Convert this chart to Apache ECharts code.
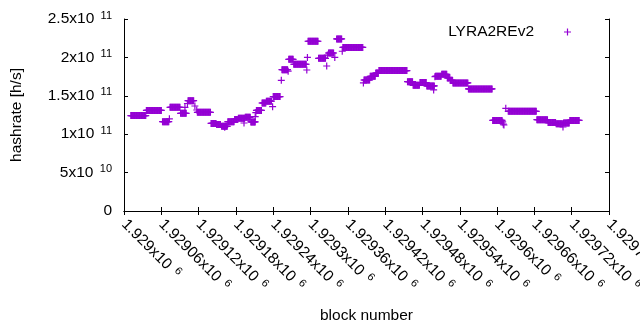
<!DOCTYPE html>
<html>
<head>
<meta charset="utf-8">
<script src="https://cdn.jsdelivr.net/npm/echarts@6/dist/echarts.min.js"></script>
<style>
  html, body { margin: 0; padding: 0; background: #fff; }
  #chart { width: 640px; height: 330px; }
</style>
</head>
<body>
<div id="chart"></div>
<script>
// block ranges where the estimated hashrate stays flat (one point per block)
const runStart = [
  1929011, 1929036, 1929062, 1929074, 1929091, 1929103, 1929118, 1929140, 1929149, 1929157,
  1929167, 1929178, 1929184, 1929195, 1929204, 1929213, 1929222, 1929229, 1929240, 1929254,
  1929265, 1929273, 1929296, 1929313, 1929329, 1929342, 1929352, 1929386, 1929396, 1929405,
  1929410, 1929456, 1929465, 1929476, 1929487, 1929501, 1929511, 1929520, 1929525, 1929529,
  1929554, 1929593, 1929618, 1929664, 1929682, 1929695, 1929707, 1929717
];
const runEnd = [
  1929035, 1929060, 1929072, 1929090, 1929100, 1929112, 1929139, 1929148, 1929155, 1929166,
  1929177, 1929183, 1929194, 1929203, 1929211, 1929221, 1929228, 1929237, 1929251, 1929263,
  1929272, 1929293, 1929312, 1929324, 1929337, 1929350, 1929384, 1929395, 1929404, 1929409,
  1929455, 1929464, 1929475, 1929486, 1929499, 1929510, 1929519, 1929524, 1929528, 1929553,
  1929592, 1929608, 1929663, 1929681, 1929694, 1929705, 1929716, 1929732
];
const runValue = [
  1.243e11, 1.31e11, 1.163e11, 1.35e11, 1.272e11, 1.436e11, 1.285e11, 1.14e11, 1.126e11, 1.103e11,
  1.163e11, 1.193e11, 1.207e11, 1.222e11, 1.16e11, 1.31e11, 1.406e11, 1.43e11, 1.49e11, 1.84e11,
  1.975e11, 1.911e11, 2.21e11, 1.988e11, 2.057e11, 2.24e11, 2.13e11, 1.706e11, 1.753e11, 1.797e11,
  1.829e11, 1.684e11, 1.636e11, 1.673e11, 1.628e11, 1.753e11, 1.779e11, 1.732e11, 1.702e11, 1.667e11,
  1.589e11, 1.18e11, 1.298e11, 1.189e11, 1.152e11, 1.137e11, 1.146e11, 1.18e11
];

// single blocks off the flat runs
const pointBlock = [
  1929073, 1929098, 1929102, 1929114, 1929117, 1929162, 1929193, 1929211, 1929212, 1929239,
  1929253, 1929264, 1929294, 1929295, 1929326, 1929327, 1929339, 1929351, 1929385, 1929498,
  1929500, 1929609, 1929610, 1929611, 1929614, 1929706
];
const pointValue = [
  1.2e11, 1.35e11, 1.40e11, 1.367e11, 1.315e11, 1.09e11, 1.146e11, 1.228e11, 1.28e11, 1.358e11,
  1.702e11, 1.82e11, 1.836e11, 2.0e11, 1.888e11, 2.03e11, 2.0e11, 2.08e11, 1.667e11, 1.576e11,
  1.748e11, 1.16e11, 1.13e11, 1.12e11, 1.337e11, 1.094e11
];

const xTickText = [
  '1.929x10', '1.92906x10', '1.92912x10', '1.92918x10', '1.92924x10', '1.9293x10', '1.92936x10',
  '1.92942x10', '1.92948x10', '1.92954x10', '1.9296x10', '1.92966x10', '1.92972x10', '1.92978x10'
];
const xTickExp = '6';
const yTickText = ['0', '5x10', '1x10', '1.5x10', '2x10', '2.5x10'];
const yTickExp = ['', '10', '11', '11', '11', '11'];

const seriesName = 'LYRA2REv2';

const X_MIN = 1929000, X_STEP = 60, Y_STEP = 5e10;
const plus = 'path://M0,2.9H7V4.1H0Z M2.9,0H4.1V7H2.9Z';
const font = 'Liberation Sans';
const fs = 15.5;

const points = [];
runStart.forEach((s, i) => {
  for (let b = s; b <= runEnd[i]; b++) points.push([b, runValue[i]]);
});
pointBlock.forEach((b, i) => points.push([b, pointValue[i]]));

const rich = {
  m: { fontSize: fs, fontFamily: font, color: '#000' },
  e: { fontSize: 11, fontFamily: font, color: '#000', padding: [0, 0, 7, 2] }
};

const chart = echarts.init(document.getElementById('chart'), null, { renderer: 'canvas' });
chart.setOption({
  animation: false,
  backgroundColor: '#fff',
  textStyle: { fontFamily: font },
  grid: { left: 124, right: 31, top: 19, bottom: 119, containLabel: false, outerBoundsMode: 'none' },
  legend: {
    data: [seriesName],
    right: 69,
    top: 24,
    padding: 0,
    align: 'right',
    icon: plus,
    itemWidth: 7,
    itemHeight: 7,
    itemStyle: { color: '#9400d3' },
    textStyle: { fontSize: fs, color: '#000', fontFamily: font, padding: [0, 25, 0, 0] }
  },
  xAxis: [
    {
      type: 'value', min: X_MIN, max: 1929780, interval: X_STEP,
      name: 'block number', nameLocation: 'middle', nameGap: 97,
      nameTextStyle: { fontSize: fs, color: '#000', fontFamily: font },
      axisLine: { lineStyle: { color: '#000', width: 1 } },
      axisTick: { inside: true, length: 4, lineStyle: { color: '#000' } },
      splitLine: { show: false },
      axisLabel: {
        rotate: -45, margin: 11, color: '#000',
        formatter: v => {
          const i = Math.round((v - X_MIN) / X_STEP);
          return '{m|' + xTickText[i] + ' }{e|' + xTickExp + '}';
        },
        rich
      }
    },
    {
      type: 'value', position: 'top', min: X_MIN, max: 1929780, interval: X_STEP,
      axisLine: { lineStyle: { color: '#000', width: 1 } },
      axisTick: { inside: true, length: 4, lineStyle: { color: '#000' } },
      axisLabel: { show: false },
      splitLine: { show: false }
    }
  ],
  yAxis: [
    {
      type: 'value', min: 0, max: 2.5e11, interval: Y_STEP,
      name: 'hashrate [h/s]', nameLocation: 'middle', nameGap: 99,
      nameTextStyle: { fontSize: fs, color: '#000', fontFamily: font },
      axisLine: { show: true, lineStyle: { color: '#000', width: 1 } },
      axisTick: { show: true, inside: true, length: 4, lineStyle: { color: '#000' } },
      splitLine: { show: false },
      axisLabel: {
        margin: 12, color: '#000',
        formatter: v => {
          const i = Math.round(v / Y_STEP);
          if (!yTickExp[i]) return '{m|' + yTickText[i] + '}';
          return '{m|' + yTickText[i] + ' }{e|' + yTickExp[i] + '}';
        },
        rich
      }
    },
    {
      type: 'value', position: 'right', min: 0, max: 2.5e11, interval: Y_STEP,
      axisLine: { show: true, lineStyle: { color: '#000', width: 1 } },
      axisTick: { show: true, inside: true, length: 4, lineStyle: { color: '#000' } },
      axisLabel: { show: false },
      splitLine: { show: false }
    }
  ],
  series: [
    {
      name: seriesName,
      type: 'scatter',
      xAxisIndex: 0,
      yAxisIndex: 0,
      symbol: plus,
      symbolSize: 7,
      itemStyle: { color: '#9400d3', opacity: 1 },
      silent: true,
      data: points
    }
  ]
});
</script>
</body>
</html>
